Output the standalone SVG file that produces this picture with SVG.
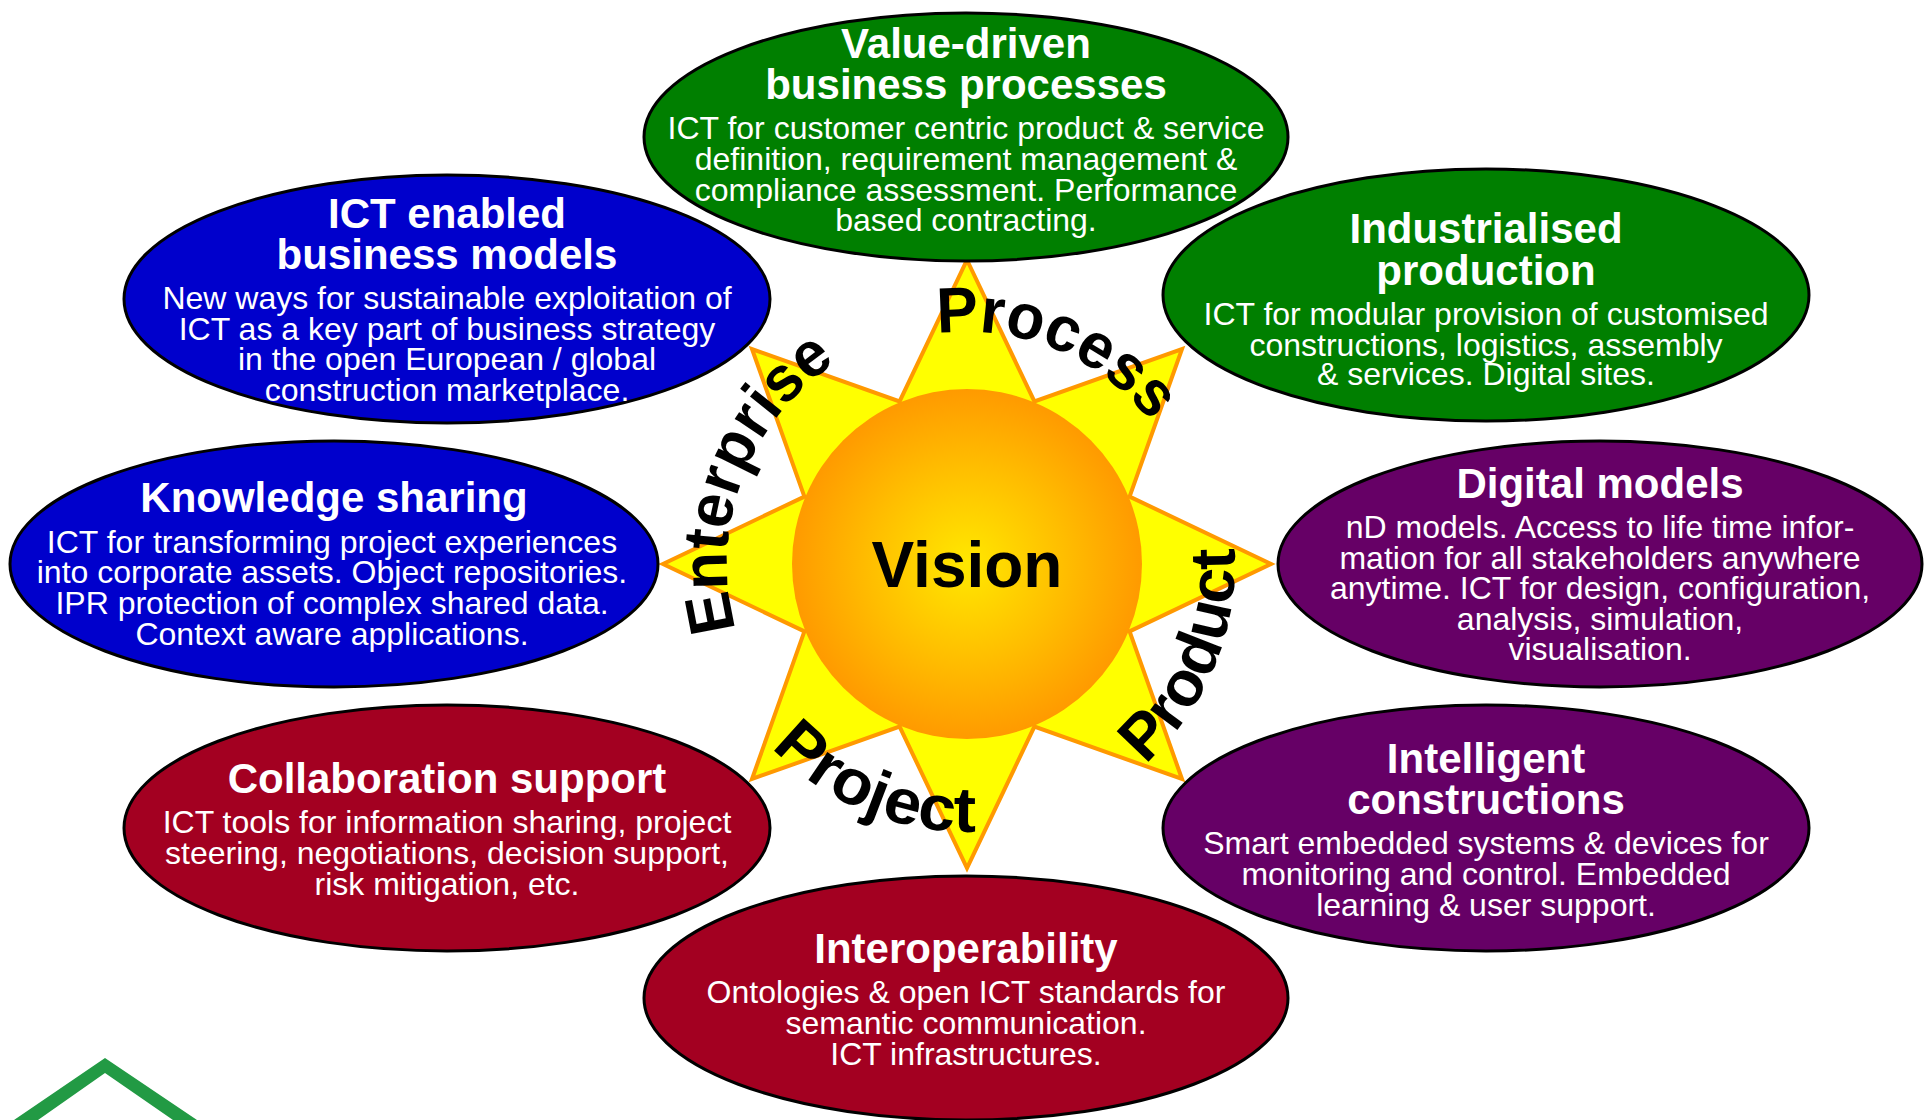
<svg xmlns="http://www.w3.org/2000/svg" width="1930" height="1120" viewBox="0 0 1930 1120">
<defs>
  <radialGradient id="sun" cx="50%" cy="50%" r="50%">
    <stop offset="0%" stop-color="#FFE800"/>
    <stop offset="55%" stop-color="#FFBE00"/>
    <stop offset="100%" stop-color="#FF9A00"/>
  </radialGradient>
  <path id="pProcess" d="M761.2,456.9 A232,232 0 0 1 1188.3,633.8"/>
  <path id="pEnterprise" d="M856.2,776.9 A240,240 0 0 1 1039.2,335.1"/>
  <path id="pProduct" d="M886.4,819.6 A268,268 0 0 0 1090.7,326.3"/>
  <path id="pProject" d="M711.4,483.4 A268,268 0 0 0 1204.7,687.7"/>
</defs>
<style>
  .ell { stroke: #000; stroke-width: 3; }
  .green { fill: #007F00; }
  .blue { fill: #0000CC; }
  .purple { fill: #660066; }
  .red { fill: #A30021; }
  .t { font-family: "Liberation Sans", Arial, sans-serif; font-weight: bold; font-size: 42px; fill: #fff; text-anchor: middle; }
  .b { font-family: "Liberation Sans", Arial, sans-serif; font-size: 32px; fill: #fff; text-anchor: middle; }
  .arc { font-family: "Liberation Sans", Arial, sans-serif; font-weight: bold; font-size: 64px; fill: #000; }
  .vision { font-family: "Liberation Sans", Arial, sans-serif; font-weight: bold; font-size: 64px; fill: #000; text-anchor: middle; }
</style>
<rect width="1930" height="1120" fill="#fff"/>

<g id="star">
  <polygon fill="#FFFF00" stroke="#FF9900" stroke-width="4" stroke-linejoin="miter"
    points="967,260 1034.4,401.4 1182,349 1129.6,496.6 1271,564 1129.6,631.4 1182,779 1034.4,726.6 967,868 899.6,726.6 752,779 804.4,631.4 663,564 804.4,496.6 752,349 899.6,401.4"/>
  <circle cx="967" cy="564" r="175" fill="url(#sun)"/>
  <text class="vision" x="967" y="587">Vision</text>
</g>

<g id="labels">
  <text class="arc"><textPath href="#pProcess" startOffset="50%" text-anchor="middle" textLength="242" lengthAdjust="spacingAndGlyphs">Process</textPath></text>
  <text class="arc"><textPath href="#pEnterprise" startOffset="348" text-anchor="middle" textLength="305" lengthAdjust="spacingAndGlyphs">Enterprise</textPath></text>
  <text class="arc"><textPath href="#pProduct" startOffset="50%" text-anchor="middle" textLength="242" lengthAdjust="spacingAndGlyphs">Product</textPath></text>
  <text class="arc"><textPath href="#pProject" startOffset="50%" text-anchor="middle" textLength="228" lengthAdjust="spacingAndGlyphs">Project</textPath></text>
</g>

<g id="value-driven">
  <ellipse class="ell green" cx="966" cy="137" rx="322" ry="124"/>
  <text class="t"><tspan x="966" y="58">Value-driven</tspan><tspan x="966" y="99">business processes</tspan></text>
  <text class="b"><tspan x="966" y="139">ICT for customer centric product &amp; service</tspan><tspan x="966" y="170">definition, requirement management &amp;</tspan><tspan x="966" y="201">compliance assessment. Performance</tspan><tspan x="966" y="231">based contracting.</tspan></text>
</g>

<g id="ict-enabled">
  <ellipse class="ell blue" cx="447" cy="299" rx="323" ry="124"/>
  <text class="t"><tspan x="447" y="228">ICT enabled</tspan><tspan x="447" y="269">business models</tspan></text>
  <text class="b"><tspan x="447" y="309">New ways for sustainable exploitation of</tspan><tspan x="447" y="340">ICT as a key part of business strategy</tspan><tspan x="447" y="370">in the open European / global</tspan><tspan x="447" y="401">construction marketplace.</tspan></text>
</g>

<g id="industrialised">
  <ellipse class="ell green" cx="1486" cy="295" rx="323" ry="126"/>
  <text class="t"><tspan x="1486" y="243">Industrialised</tspan><tspan x="1486" y="285">production</tspan></text>
  <text class="b"><tspan x="1486" y="325">ICT for modular provision of customised</tspan><tspan x="1486" y="356">constructions, logistics, assembly</tspan><tspan x="1486" y="385">&amp; services. Digital sites.</tspan></text>
</g>

<g id="knowledge">
  <ellipse class="ell blue" cx="334" cy="564" rx="324" ry="123"/>
  <text class="t" x="334" y="512">Knowledge sharing</text>
  <text class="b"><tspan x="332" y="553">ICT for transforming project experiences</tspan><tspan x="332" y="583">into corporate assets. Object repositories.</tspan><tspan x="332" y="614">IPR protection of complex shared data.</tspan><tspan x="332" y="645">Context aware applications.</tspan></text>
</g>

<g id="digital">
  <ellipse class="ell purple" cx="1600" cy="564" rx="322" ry="123"/>
  <text class="t" x="1600" y="498">Digital models</text>
  <text class="b"><tspan x="1600" y="538">nD models. Access to life time infor-</tspan><tspan x="1600" y="569">mation for all stakeholders anywhere</tspan><tspan x="1600" y="599">anytime. ICT for design, configuration,</tspan><tspan x="1600" y="630">analysis, simulation,</tspan><tspan x="1600" y="660">visualisation.</tspan></text>
</g>

<g id="collaboration">
  <ellipse class="ell red" cx="447" cy="828" rx="323" ry="123"/>
  <text class="t" x="447" y="793">Collaboration support</text>
  <text class="b"><tspan x="447" y="833">ICT tools for information sharing, project</tspan><tspan x="447" y="864">steering, negotiations, decision support,</tspan><tspan x="447" y="895">risk mitigation, etc.</tspan></text>
</g>

<g id="intelligent">
  <ellipse class="ell purple" cx="1486" cy="828" rx="323" ry="123"/>
  <text class="t"><tspan x="1486" y="773">Intelligent</tspan><tspan x="1486" y="814">constructions</tspan></text>
  <text class="b"><tspan x="1486" y="854">Smart embedded systems &amp; devices for</tspan><tspan x="1486" y="885">monitoring and control. Embedded</tspan><tspan x="1486" y="916">learning &amp; user support.</tspan></text>
</g>

<g id="interoperability">
  <ellipse class="ell red" cx="966" cy="998" rx="322" ry="122"/>
  <text class="t" x="966" y="963">Interoperability</text>
  <text class="b"><tspan x="966" y="1003">Ontologies &amp; open ICT standards for</tspan><tspan x="966" y="1034">semantic communication.</tspan><tspan x="966" y="1065">ICT infrastructures.</tspan></text>
</g>

<g id="logo">
  <polygon fill="#229A44" points="14,1120 105,1058 197,1120 173,1120 105,1073 38,1120"/>
</g>
</svg>
